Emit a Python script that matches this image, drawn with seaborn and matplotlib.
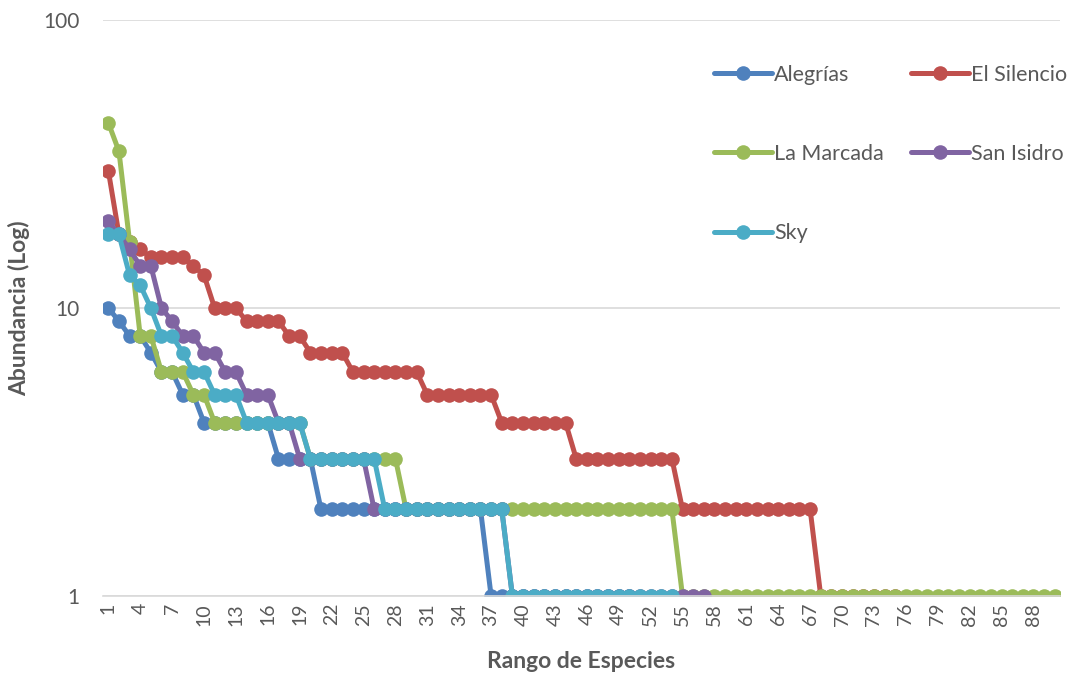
import numpy as np
import pandas as pd
import matplotlib
matplotlib.use("Agg")
import matplotlib.pyplot as plt
import seaborn as sns

# Abundance per species rank for each site
alegrias = [10, 9, 8, 8, 7, 6, 6, 5, 5] + [4] * 7 + [3] * 4 + [2] * 16 + [1] * 14
el_silencio = ([30, 18, 17, 16, 15, 15, 15, 15, 14, 13] + [10] * 3 + [9] * 4 + [8] * 2
               + [7] * 4 + [6] * 7 + [5] * 7 + [4] * 7 + [3] * 10 + [2] * 13 + [1] * 8)
la_marcada = ([44, 35, 17, 8, 8, 6, 6, 6, 5, 5] + [4] * 9 + [3] * 9 + [2] * 26 + [1] * 36)
san_isidro = ([20, 18, 16, 14, 14, 10, 9, 8, 8, 7, 7, 6, 6, 5, 5, 5, 4, 4]
              + [3] * 7 + [2] * 13 + [1] * 19)
sky = ([18, 18, 13, 12, 10, 8, 8, 7, 6, 6, 5, 5, 5] + [4] * 6 + [3] * 7 + [2] * 12 + [1] * 16)

sites = ["Alegrías", "El Silencio", "La Marcada", "San Isidro", "Sky"]
series = [alegrias, el_silencio, la_marcada, san_isidro, sky]
colors = ["#4F81BD", "#C0504D", "#9BBB59", "#8064A2", "#4BACC6"]
n_ranks = 90
tick_ranks = list(range(1, n_ranks, 3))
y_ticks = [1, 10, 100]

rows = []
for site, vals in zip(sites, series):
    for i, v in enumerate(vals):
        rows.append({"Rango": i + 1, "Abundancia": v, "Sitio": site})
df = pd.DataFrame(rows)

sns.set_theme(style="white")
plt.rcParams["font.family"] = ["Lato", "DejaVu Sans"]
text_col = "#595959"

fig = plt.figure(figsize=(10.73, 6.76), dpi=100)
ax = fig.add_axes([103 / 1073, 1 - 596 / 676, (1060 - 103) / 1073, (596 - 20) / 676])

sns.lineplot(data=df, x="Rango", y="Abundancia", hue="Sitio", hue_order=sites,
             palette=colors, marker="o", markersize=10.5, markeredgewidth=0,
             linewidth=3.6, sort=False, ax=ax, legend=True)

ax.set_yscale("log")
ax.set_ylim(1, 100)
ax.set_xlim(0.5, n_ranks + 0.5)
ax.set_yticks(y_ticks)
ax.set_yticklabels([str(t) for t in y_ticks])
ax.yaxis.set_minor_locator(matplotlib.ticker.NullLocator())
ax.set_xticks(tick_ranks)
ax.set_xticklabels([str(t) for t in tick_ranks], rotation=90)
ax.tick_params(axis="x", labelsize=14, colors=text_col, length=0, pad=5)
ax.tick_params(axis="y", labelsize=15, colors=text_col, length=0, pad=17)

ax.grid(axis="y", color="#D9D9D9", linewidth=1.2)
ax.grid(axis="x", visible=False)
for side in ["top", "right", "left"]:
    ax.spines[side].set_visible(False)
ax.spines["bottom"].set_color("#D9D9D9")
ax.spines["bottom"].set_linewidth(1.2)
ax.set_axisbelow(True)

ax.set_xlabel("Rango de Especies", fontsize=16.5, fontweight="bold", color=text_col, labelpad=18)
ax.set_ylabel("Abundancia (Log)", fontsize=16.5, fontweight="bold", color=text_col, labelpad=9)

# Row-wise legend order for a two-column layout
handles, labels = ax.get_legend_handles_labels()
order = [0, 2, 4, 1, 3]
ax.legend([handles[i] for i in order], [labels[i] for i in order], ncol=2,
          loc="upper left", frameon=False,
          bbox_to_anchor=(703 / 1073, 1 - 54 / 676), bbox_transform=fig.transFigure,
          fontsize=15.5, labelspacing=2.75, handlelength=2.7, handletextpad=0.1,
          columnspacing=1.25, borderpad=0, labelcolor=text_col)

fig.savefig("out.png", dpi=100)
